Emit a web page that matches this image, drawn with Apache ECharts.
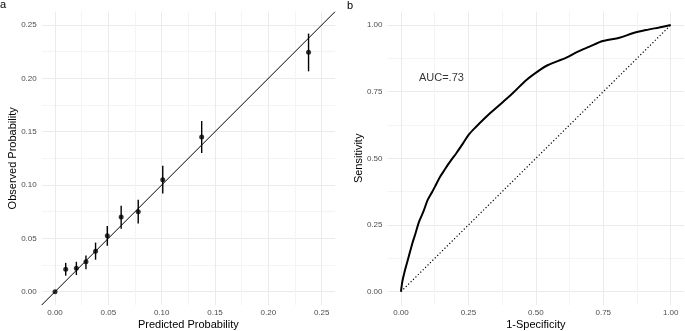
<!DOCTYPE html>
<html lang="en">
<head>
    <meta charset="UTF-8">
    <title>Calibration and ROC</title>
    <script src="https://cdn.jsdelivr.net/npm/echarts@6/dist/echarts.min.js"></script>
    <style>
        html, body, #chart {
            width: 685px;
            height: 331px;
            padding: 0;
            margin: 0;
            background: #fff;
        }
    </style>
</head>
<body>
<div id="chart"></div>
<script>
    // panel a: calibration
    var predicted = [0, 0.010, 0.020, 0.029, 0.038, 0.049, 0.062, 0.078, 0.101, 0.1375, 0.2377];
    var observed = [0, 0.021, 0.022, 0.028, 0.038, 0.0525, 0.070, 0.075, 0.105, 0.145, 0.2244];
    var lower = [0, 0.015, 0.0156, 0.021, 0.030, 0.043, 0.059, 0.064, 0.092, 0.130, 0.2066];
    var upper = [0, 0.027, 0.028, 0.034, 0.046, 0.0616, 0.0806, 0.0862, 0.118, 0.160, 0.242];
    var identity = [-0.0125, 0.2625];

    // panel b: ROC
    var fpr = [0, 0.005, 0.015, 0.027, 0.042, 0.054, 0.067, 0.083, 0.099, 0.116, 0.126, 0.145, 0.163, 0.182,
        0.207, 0.231, 0.252, 0.275, 0.33, 0.379, 0.416, 0.465, 0.514, 0.545, 0.613, 0.65, 0.699, 0.748,
        0.81, 0.859, 0.908, 0.957, 1];
    var tpr = [0, 0.0375, 0.081, 0.125, 0.181, 0.219, 0.2625, 0.30, 0.344, 0.375, 0.394, 0.431, 0.459, 0.4875,
        0.522, 0.558, 0.59, 0.615, 0.669, 0.7125, 0.746, 0.794, 0.831, 0.85, 0.8775, 0.8975, 0.919, 0.94,
        0.9525, 0.969, 0.981, 0.991, 1];
    var chance = [0, 1];
    var aucLabel = "AUC=.73";
    var aucPos = [0.15, 0.8];

    var NONE = "rgba(0,0,0,0)";
    var MAJOR = "#EBEBEB";
    var MINOR = "#F4F4F4";
    var FONT = "Liberation Sans";

    function labelEvery(step) {
        return function (v) {
            var k = v / step;
            if (Math.abs(k - Math.round(k)) > 1e-6) return "";
            if (Math.abs(v) < 1e-9) v = 0;
            return v.toFixed(2);
        };
    }

    function axis(gridIndex, name, min, max, interval, step, colors, isY) {
        return {
            type: "value",
            gridIndex: gridIndex,
            min: min,
            max: max,
            interval: interval,
            name: name,
            nameLocation: "middle",
            nameGap: isY ? 23 : 14,
            nameMoveOverlap: false,
            nameTextStyle: {color: "#000", fontSize: 11, fontFamily: FONT},
            axisLine: {show: false},
            axisTick: {show: false},
            axisLabel: {
                color: "#4D4D4D", fontSize: 8, fontFamily: FONT, margin: isY ? 5 : 4,
                formatter: labelEvery(step), hideOverlap: false
            },
            splitLine: {show: true, lineStyle: {color: colors, width: 1}}
        };
    }

    var calColors = [NONE, MAJOR, NONE, MINOR];
    var rocColors = [NONE, NONE, MAJOR, NONE, NONE, NONE, NONE, MINOR, NONE, NONE];

    var chart = echarts.init(document.getElementById("chart"), null, {renderer: "canvas"});

    chart.setOption({
        animation: false,
        backgroundColor: "#fff",
        title: [
            {text: "a", left: 0, top: -1, padding: 0, textStyle: {fontSize: 11, fontWeight: "normal", color: "#000", fontFamily: FONT}},
            {text: "b", left: 347, top: 0, padding: 0, textStyle: {fontSize: 11, fontWeight: "normal", color: "#000", fontFamily: FONT}}
        ],
        grid: [
            {left: 41.7, top: 11.7, width: 293.3, height: 293.3, outerBoundsMode: "none"},
            {left: 387.5, top: 11.7, width: 296.7, height: 293.3, outerBoundsMode: "none"}
        ],
        xAxis: [
            axis(0, "Predicted Probability", -0.0125, 0.2625, 0.0125, 0.05, calColors, false),
            axis(1, "1-Specificity", -0.05, 1.05, 0.025, 0.25, rocColors, false)
        ],
        yAxis: [
            axis(0, "Observed Probability", -0.0125, 0.2625, 0.0125, 0.05, calColors, true),
            axis(1, "Sensitivity", -0.05, 1.05, 0.025, 0.25, rocColors, true)
        ],
        series: [
            {
                type: "line",
                xAxisIndex: 0, yAxisIndex: 0,
                data: identity.map(function (v) { return [v, v]; }),
                symbol: "none",
                silent: true,
                lineStyle: {color: "#000", width: 1}
            },
            {
                type: "custom",
                xAxisIndex: 0, yAxisIndex: 0,
                data: predicted.map(function (x, i) { return [x, lower[i], upper[i]]; }),
                encode: {x: 0, y: [1, 2]},
                renderItem: function (params, api) {
                    var a = api.coord([api.value(0), api.value(1)]);
                    var b = api.coord([api.value(0), api.value(2)]);
                    return {
                        type: "line",
                        shape: {x1: a[0], y1: a[1], x2: b[0], y2: b[1]},
                        style: {stroke: "#000", lineWidth: 1.4}
                    };
                },
                silent: true
            },
            {
                type: "scatter",
                xAxisIndex: 0, yAxisIndex: 0,
                data: predicted.map(function (x, i) { return [x, observed[i]]; }),
                symbolSize: 5,
                itemStyle: {color: "#000"},
                silent: true
            },
            {
                type: "line",
                xAxisIndex: 1, yAxisIndex: 1,
                data: chance.map(function (v) { return [v, v]; }),
                symbol: "none",
                silent: true,
                lineStyle: {color: "#000", width: 1.2, type: [1.2, 2.2]}
            },
            {
                type: "line",
                xAxisIndex: 1, yAxisIndex: 1,
                data: fpr.map(function (x, i) { return [x, tpr[i]]; }),
                symbol: "none",
                smooth: 0.3,
                silent: true,
                lineStyle: {color: "#000", width: 2}
            },
            {
                type: "scatter",
                xAxisIndex: 1, yAxisIndex: 1,
                data: [aucPos],
                symbolSize: 0,
                silent: true,
                label: {
                    show: true, position: "inside", formatter: aucLabel,
                    color: "#000", fontSize: 11, fontFamily: FONT
                }
            }
        ]
    });
</script>
</body>
</html>
